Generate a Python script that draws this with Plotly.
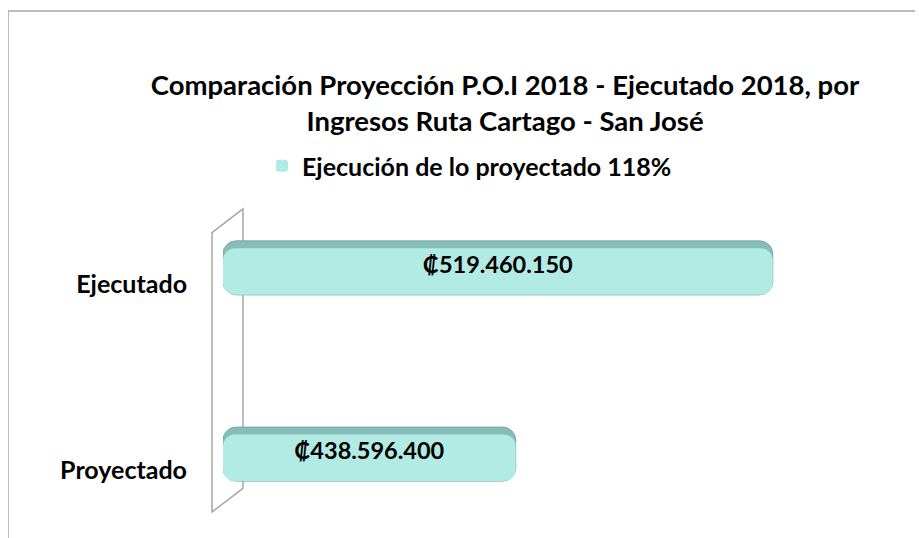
import plotly.graph_objects as go

# datos del grafico
categorias = ["Proyectado", "Ejecutado"]
montos = [438596400, 519460150]
serie = "Ejecución de lo proyectado 118%"
titulo = "Comparación Proyección P.O.I 2018 - Ejecutado 2018, por<br>Ingresos Ruta Cartago - San José"

# limites del eje de valores (como en el original, no arranca en cero)
eje_min = 346.5e6
eje_max = 559.5e6

FUENTE = "Lato"


def colones(v):
    return "₡" + f"{v:,}".replace(",", ".")


etiquetas = [colones(m) for m in montos]
largos = [m - eje_min for m in montos]

fig = go.Figure()

# cuerpo oscuro de la barra (da el borde/sombra 3D)
fig.add_trace(go.Bar(
    y=categorias, x=largos, base=eje_min,
    orientation="h", width=0.29,
    marker=dict(color="#86bdb8", line=dict(color="#78aca7", width=1), cornerradius=13),
    showlegend=False, hoverinfo="skip",
))

# cara clara de la barra
fig.add_trace(go.Bar(
    y=categorias, x=largos, base=eje_min,
    orientation="h", width=0.25, offset=-0.145,
    marker=dict(color="#b2eae4", line=dict(width=0), cornerradius=12),
    name=serie,
    customdata=etiquetas, hovertemplate="%{y}: %{customdata}<extra></extra>",
))

# etiquetas de datos
fig.add_trace(go.Bar(
    y=categorias, x=largos, base=eje_min,
    orientation="h", width=0.29, offset=-0.125,
    marker=dict(color="rgba(0,0,0,0)", line=dict(width=0)),
    text=etiquetas, textposition="inside", insidetextanchor="middle",
    textfont=dict(family=FUENTE, size=23.5, color="black", weight=700),
    showlegend=False, hoverinfo="skip",
))

gris = "#a6a6a6"
fig.update_layout(
    width=923, height=538,
    margin=dict(l=215, r=31, t=190, b=31),
    paper_bgcolor="white", plot_bgcolor="rgba(0,0,0,0)",
    barmode="overlay",
    title=dict(
        text=titulo, x=0.5385, xanchor="center", xref="container",
        y=1 - 87 / 538, yanchor="top", yref="container",
        font=dict(family=FUENTE, size=27.5, color="black", weight=700),
    ),
    legend=dict(
        orientation="h", xref="container", yref="container",
        x=0.5, xanchor="center", y=1 - 158 / 538, yanchor="middle",
        font=dict(family=FUENTE, size=25, color="black", weight=700),
    ),
    showlegend=True,
    xaxis=dict(range=[eje_min, eje_max], visible=False),
    yaxis=dict(
        range=[-0.327, 1.359], showgrid=False, showline=False, zeroline=False,
        ticks="", ticklabelstandoff=35, ticklabelshift=16,
        tickfont=dict(family=FUENTE, size=25, color="black", weight=700),
    ),
    shapes=[
        # pared del eje en perspectiva
        dict(type="path", xref="paper", yref="paper", layer="below",
             path="M 0.0295 0.975 L -0.0162 0.899 L -0.0162 0.0095 L 0.0295 0.085 Z",
             line=dict(color=gris, width=1.5)),
        # borde del area del grafico (recortado en el original)
        dict(type="line", xref="paper", yref="paper", x0=-0.3176, x1=1.1, y0=1.605, y1=1.605,
             line=dict(color=gris, width=1.5)),
        dict(type="line", xref="paper", yref="paper", x0=-0.3176, x1=-0.3176, y0=1.605, y1=-0.2,
             line=dict(color=gris, width=1.5)),
    ],
)

fig.write_html("out.html")
